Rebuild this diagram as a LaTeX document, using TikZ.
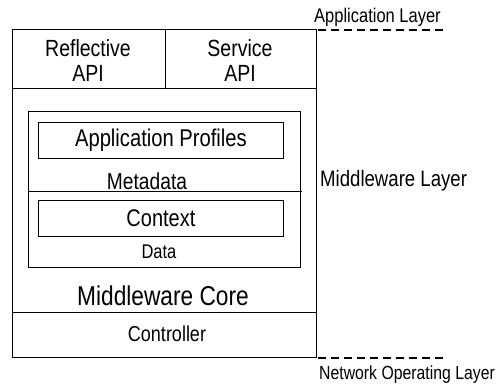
\documentclass[tikz,border=0pt]{standalone}
\usepackage{fontspec}
\setmainfont{Liberation Sans}
\newcommand{\vst}[1]{\scalebox{1}[1.2]{#1}}
\begin{document}
\begin{tikzpicture}[x=1pt,y=-1pt,
  box/.style={draw,line width=0.9pt},
  lbl/.style={inner sep=0pt,font=\fontsize{19.5}{21}\selectfont},
  layerdash/.style={line width=2.6pt,dash pattern=on 8pt off 5pt}]
\useasboundingbox (0,0) rectangle (503,387);
% outer structure
\draw[box] (12,29) rectangle (316,357);
\draw[box] (12,88) -- (316,88);
\draw[box] (165,29) -- (165,88);
\draw[box] (12,312) -- (316,312);
% metadata container
\draw[box] (28,111) rectangle (300,267);
\draw[box] (28,191) -- (302,191);
\node[box,minimum width=245pt,minimum height=36pt,anchor=north west,inner sep=0pt] (prof) at (38,122) {};
\node[box,minimum width=245pt,minimum height=36pt,anchor=north west,inner sep=0pt] (ctx) at (38,200) {};
% labels
\node[lbl] (refl) at (88,48) {\vst{Reflective}};
\node[lbl] (reflapi) at (88,73) {\vst{API}};
\node[lbl] (serv) at (240,48) {\vst{Service}};
\node[lbl] (servapi) at (240,73) {\vst{API}};
\node[lbl,font=\fontsize{20.2}{22}\selectfont] at (prof.center) {\vst{Application Profiles}};
\node[lbl,font=\fontsize{19.2}{21}\selectfont] (meta) at (147,181) {\vst{Metadata}};
\node[lbl,font=\fontsize{20}{22}\selectfont] at (ctx.center) {\vst{Context}};
\node[lbl,font=\fontsize{16.5}{18}\selectfont] (data) at (159,252) {\vst{Data}};
\node[lbl,font=\fontsize{22.7}{25}\selectfont] (core) at (163,296) {\vst{Middleware Core}};
\node[lbl,font=\fontsize{18}{20}\selectfont] (ctrl) at (167,334) {\vst{Controller}};
% layer labels
\node[lbl,font=\fontsize{16.5}{18}\selectfont,anchor=west] (applayer) at (314,17) {\vst{Application Layer}};
\node[lbl,font=\fontsize{18.6}{20}\selectfont,anchor=west] (midlayer) at (320,181) {\vst{Middleware Layer}};
\node[lbl,font=\fontsize{15.8}{18}\selectfont,anchor=west] (netlayer) at (319,375) {\vst{Network Operating Layer}};
\coordinate (a1) at (318,30); \coordinate (a2) at (444,30);
\coordinate (n1) at (318,358); \coordinate (n2) at (446,358);
\draw[layerdash] (a1) -- (a2);
\draw[layerdash] (n1) -- (n2);
\end{tikzpicture}
\end{document}
